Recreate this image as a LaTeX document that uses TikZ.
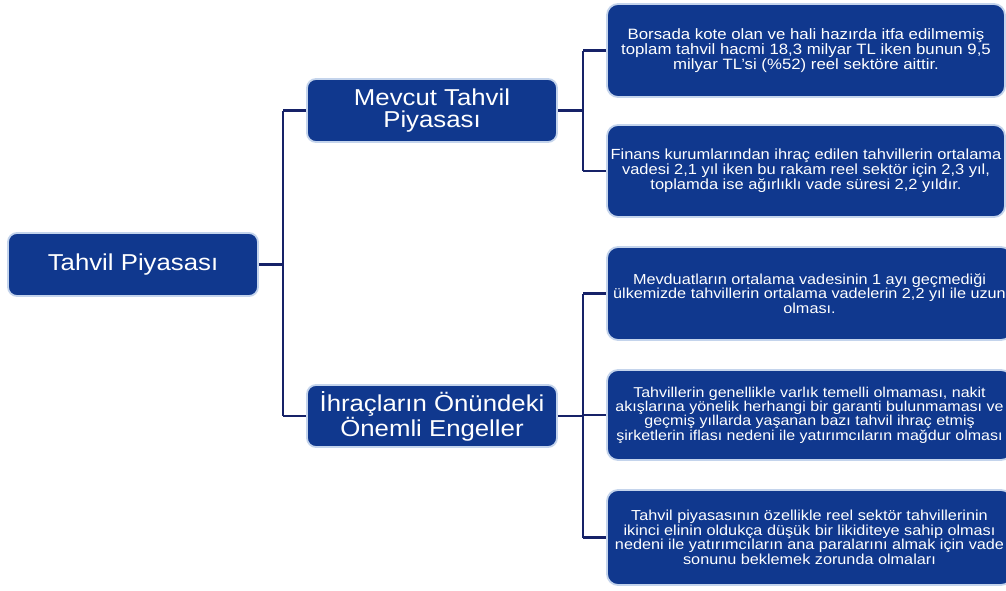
\documentclass[tikz,border=0pt]{standalone}
\usepackage{fontspec}
\setmainfont[FakeStretch=1.12]{Liberation Sans}
\definecolor{boxfill}{RGB}{16,56,142}
\definecolor{boxline}{RGB}{196,212,236}
\definecolor{conn}{RGB}{22,34,104}
\tikzset{
  bigbox/.style={draw=boxline, line width=1.8pt, fill=boxfill, rounded corners=9pt, text=white, align=center, inner sep=0pt, font=\fontsize{23}{21.5}\selectfont},
  smallbox/.style={draw=boxline, line width=1.8pt, fill=boxfill, rounded corners=11pt, text=white, align=center, inner sep=0pt, font=\fontsize{15}{13.4}\selectfont},
  link/.style={draw=conn, line width=2.2pt}
}
\begin{document}
\begin{tikzpicture}[x=1pt,y=-1pt]
\useasboundingbox (0,0) rectangle (1006,590);
\fill[white] (0,0) rectangle (1006,590);
\node[bigbox, minimum width=250pt, minimum height=63pt] (root) at (133,264.5) {Tahvil Piyasası};
\node[bigbox, minimum width=250pt, minimum height=63pt] (mevcut) at (432,110.5) {Mevcut Tahvil\\Piyasası};
\node[bigbox, minimum width=250pt, minimum height=62pt] (ihrac) at (432,416) {İhraçların Önündeki\\Önemli Engeller};
\node[smallbox, minimum width=398pt, minimum height=93pt] (b1) at (806,50.5) {Borsada kote olan ve hali hazırda itfa edilmemiş\\toplam tahvil hacmi 18,3 milyar TL iken bunun 9,5\\milyar TL'si (\%52) reel sektöre aittir.};
\node[smallbox, minimum width=398pt, minimum height=92pt, font=\fontsize{14.7}{13.4}\selectfont] (b2) at (806,171) {Finans kurumlarından ihraç edilen tahvillerin ortalama\\vadesi 2,1 yıl iken bu rakam reel sektör için 2,3 yıl,\\toplamda ise ağırlıklı vade süresi 2,2 yıldır.};
\node[smallbox, minimum width=405pt, minimum height=93pt, font=\fontsize{14.5}{13.4}\selectfont] (b3) at (809.5,293.5) {Mevduatların ortalama vadesinin 1 ayı geçmediği\\ülkemizde tahvillerin ortalama vadelerin 2,2 yıl ile uzun\\olması.};
\node[smallbox, minimum width=405pt, minimum height=90pt, font=\fontsize{14.3}{12.6}\selectfont] (b4) at (809.5,415) {Tahvillerin genellikle varlık temelli olmaması, nakit\\akışlarına yönelik herhangi bir garanti bulunmaması ve\\geçmiş yıllarda yaşanan bazı tahvil ihraç etmiş\\şirketlerin iflası nedeni ile yatırımcıların mağdur olması};
\node[smallbox, minimum width=405pt, minimum height=95pt, font=\fontsize{14.5}{12.9}\selectfont] (b5) at (809.5,537.5) {Tahvil piyasasının özellikle reel sektör tahvillerinin\\ikinci elinin oldukça düşük bir likiditeye sahip olması\\nedeni ile yatırımcıların ana paralarını almak için vade\\sonunu beklemek zorunda olmaları};
\coordinate (ja) at (283,0);
\coordinate (jb) at (583,0);
\draw[link] (root.east) -- (root.east -| ja);
\draw[link] (mevcut.west -| ja) -- (ihrac.west -| ja);
\draw[link] (mevcut.west -| ja) -- (mevcut.west);
\draw[link] (ihrac.west -| ja) -- (ihrac.west);
\draw[link] (mevcut.east) -- (mevcut.east -| jb);
\draw[link] (b1.west -| jb) -- (b2.west -| jb);
\draw[link] (b1.west -| jb) -- (b1.west);
\draw[link] (b2.west -| jb) -- (b2.west);
\draw[link] (ihrac.east) -- (ihrac.east -| jb);
\draw[link] (b3.west -| jb) -- (b5.west -| jb);
\draw[link] (b3.west -| jb) -- (b3.west);
\draw[link] (b4.west -| jb) -- (b4.west);
\draw[link] (b5.west -| jb) -- (b5.west);
\end{tikzpicture}
\end{document}
